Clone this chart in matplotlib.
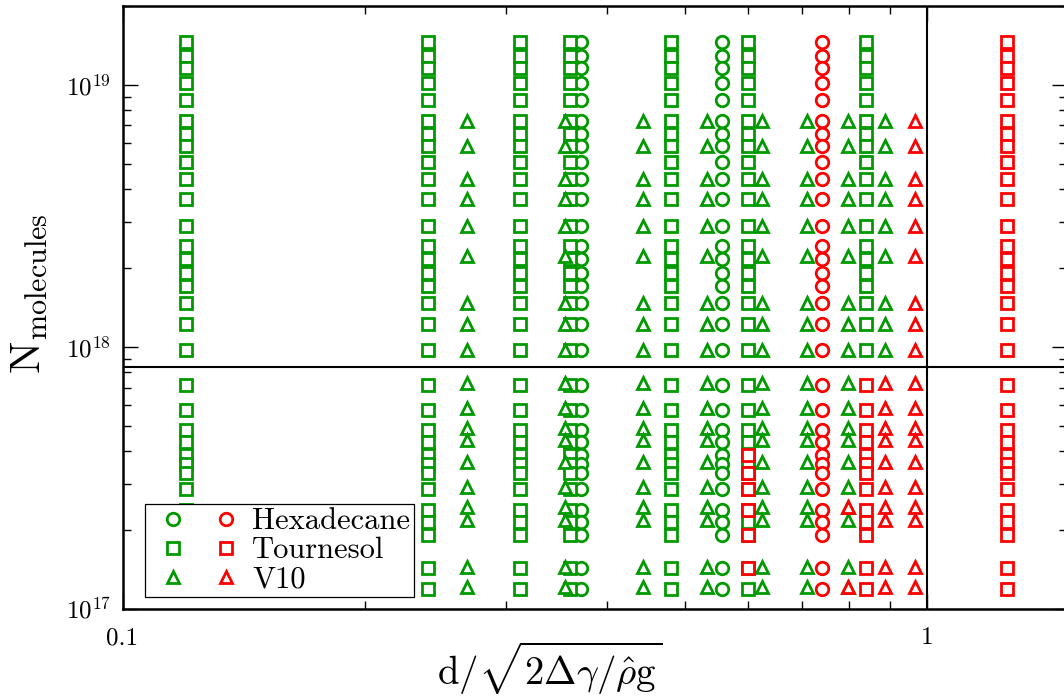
import numpy as np
import matplotlib
matplotlib.use("Agg")
import matplotlib.pyplot as plt
from matplotlib.legend_handler import HandlerTuple

plt.rcParams['font.family'] = ['cmr10', 'DejaVu Serif']
plt.rcParams['mathtext.fontset'] = 'cm'
plt.rcParams['axes.formatter.use_mathtext'] = True

GREEN = '#009a00'
RED = '#ff0000'

# N values of the measurement rows
sq_levels_up = [1.46e19, 1.29e19, 1.16e19, 1.02e19, 8.77e18, 7.26e18, 6.5e18, 5.87e18,
                5.1e18, 4.37e18, 3.67e18, 2.9e18, 2.43e18, 2.16e18, 1.92e18, 1.71e18,
                1.47e18, 1.22e18, 9.75e17]
sq_levels_lo = [7.16e17, 5.74e17, 4.82e17, 4.35e17, 3.86e17, 3.57e17, 3.31e17, 2.88e17,
                2.38e17, 2.15e17, 1.91e17, 1.43e17, 1.19e17]
tri_levels_up = [7.26e18, 5.87e18, 4.37e18, 3.67e18, 2.9e18, 2.22e18, 1.47e18, 1.22e18, 9.75e17]
tri_levels_lo = [7.26e17, 5.84e17, 4.89e17, 4.41e17, 3.64e17, 2.93e17, 2.45e17, 2.18e17,
                 1.45e17, 1.21e17]

# d / capillary length for each column
green_circle_x = [0.3716, 0.5561]
green_square_x = [0.1200, 0.2401, 0.3120, 0.3600, 0.4805, 0.5997]
green_square_x_up = [0.8398]
green_tri_x = [0.2680, 0.3550, 0.4440, 0.5326, 0.6234, 0.7091, 0.7989]
green_tri_x_up = [0.8873]

red_circle_x = [0.7402]
red_square_x = [1.2594]
red_square_x_lo = [0.8398]
red_tri_x = [0.9672]
red_tri_x_lo = [0.8873]

red_square_06_levels = [3.86e17, 3.31e17, 2.88e17, 2.38e17, 1.91e17, 1.43e17]
red_tri_08_levels = [2.45e17, 1.21e17]

threshold_N = 8.39e17
threshold_x = 1.0


def grid(xcols, levels):
    X, Y = np.meshgrid(xcols, levels)
    return X.ravel(), Y.ravel()


def cat(*pairs):
    xs = np.concatenate([p[0] for p in pairs])
    ys = np.concatenate([p[1] for p in pairs])
    return xs, ys


sq_all = sq_levels_up + sq_levels_lo
tri_all = tri_levels_up + tri_levels_lo

gc = grid(green_circle_x, sq_all)
gs = cat(grid(green_square_x, sq_all), grid(green_square_x_up, sq_levels_up))
gt = cat(grid(green_tri_x, tri_all), grid(green_tri_x_up, tri_levels_up))
rc = grid(red_circle_x, sq_all)
rs = cat(grid(red_square_x, sq_all), grid(red_square_x_lo, sq_levels_lo),
         grid([0.5997], red_square_06_levels))
rt = cat(grid(red_tri_x, tri_all), grid(red_tri_x_lo, tri_levels_lo),
         grid([0.7989], red_tri_08_levels))

fig = plt.figure(figsize=(10.64, 6.97), dpi=100)
ax = fig.add_axes([122.5 / 1064, 88 / 697, (1067 - 122.5) / 1064, 603 / 697])

style = dict(linestyle='none', markerfacecolor='white', markersize=9, markeredgewidth=2.0)
h_gc, = ax.plot(*gc, marker='o', color=GREEN, **style)
h_gs, = ax.plot(*gs, marker='s', color=GREEN, **style)
h_gt, = ax.plot(*gt, marker='^', color=GREEN, **style)
h_rc, = ax.plot(*rc, marker='o', color=RED, **style)
h_rs, = ax.plot(*rs, marker='s', color=RED, **style)
h_rt, = ax.plot(*rt, marker='^', color=RED, **style)

ax.axhline(threshold_N, color='black', lw=1.5)
ax.axvline(threshold_x, color='black', lw=1.5)

ax.set_xscale('log')
ax.set_yscale('log')
ax.set_xlim(0.1, 1.494)
ax.set_ylim(1e17, 2.0e19)
ax.set_xticks([0.1, 1], ['0.1', '1'])
ax.tick_params(which='both', direction='in', top=True, right=True, labelsize=18, width=1.0)
ax.tick_params(which='major', length=11, pad=8)
ax.tick_params(axis='x', which='major', pad=13)
ax.tick_params(which='minor', length=6)
ax.xaxis.set_minor_formatter(plt.NullFormatter())
for s in ax.spines.values():
    s.set_linewidth(1.8)

leg = ax.legend(handles=[(h_gc, h_rc), (h_gs, h_rs), (h_gt, h_rt)],
                labels=['Hexadecane', 'Tournesol', 'V10'],
                handler_map={tuple: HandlerTuple(ndivide=None, pad=0.19)},
                loc='lower left', bbox_to_anchor=(0.0238, 0.0199), borderaxespad=0,
                fancybox=False, edgecolor='black', framealpha=1, fontsize=22,
                handlelength=3.33, handletextpad=0.05, labelspacing=0.05, borderpad=0.12)
leg.get_frame().set_linewidth(0.9)

fig.text(30 / 1064, 1 - 294 / 697, r'$\mathrm{N}_{\mathrm{molecules}}$', rotation=90,
         ha='center', va='center', fontsize=31)
fig.text(550 / 1064, 1 - 668 / 697, r'$\mathrm{d}/\sqrt{2\Delta\gamma/\hat{\rho}\mathrm{g}}$',
         ha='center', va='center', fontsize=28)

fig.savefig('out.png', dpi=100)
